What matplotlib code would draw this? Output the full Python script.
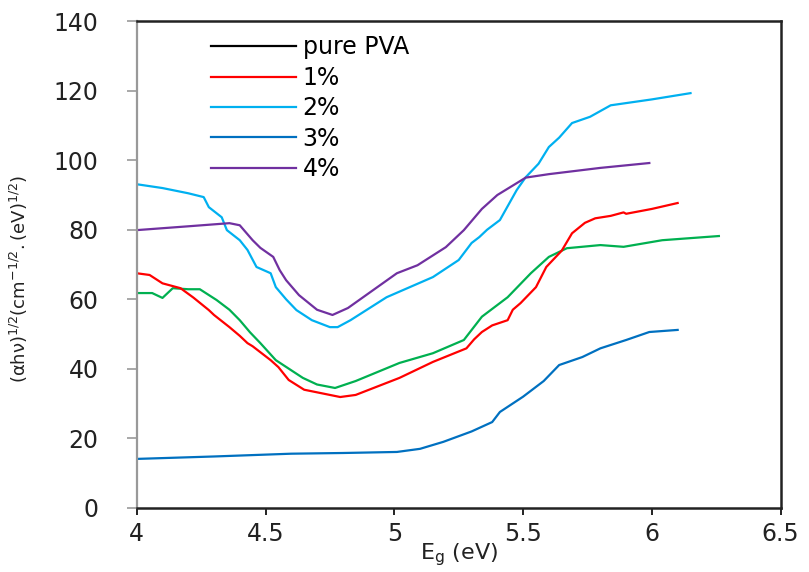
import matplotlib
matplotlib.use("Agg")
import matplotlib.pyplot as plt
from matplotlib.lines import Line2D

plt.rcParams['font.family'] = ['DejaVu Sans']
plt.rcParams['mathtext.fontset'] = 'dejavusans'

# photon energy (eV) and (alpha h nu)^1/2
x_1 = [4.0, 4.05, 4.10, 4.17, 4.22, 4.28, 4.30, 4.36, 4.40, 4.43, 4.45, 4.52, 4.55, 4.59, 4.65,
       4.75, 4.79, 4.85, 5.02, 5.15, 5.28, 5.31, 5.34, 5.38, 5.44, 5.46, 5.49, 5.55, 5.59, 5.65,
       5.69, 5.74, 5.78, 5.84, 5.89, 5.90, 6.0, 6.10]
y_1 = [67.5, 67.0, 64.6, 63.2, 60.5, 56.9, 55.5, 52.0, 49.5, 47.4, 46.5, 42.5, 40.5, 36.8, 34.0,
       32.5, 31.9, 32.5, 37.4, 42.0, 45.9, 48.5, 50.6, 52.5, 54.0, 57.0, 58.9, 63.5, 69.3, 74.0,
       79.0, 82.0, 83.3, 84.0, 85.0, 84.6, 86.0, 87.7]

x_2 = [4.0, 4.10, 4.20, 4.26, 4.28, 4.33, 4.35, 4.40, 4.43, 4.465, 4.52, 4.54, 4.58, 4.62, 4.68,
       4.75, 4.78, 4.83, 4.97, 5.15, 5.25, 5.30, 5.33, 5.36, 5.41, 5.475, 5.51, 5.56, 5.60, 5.64,
       5.69, 5.76, 5.84, 6.0, 6.15]
y_2 = [93.1, 92.0, 90.5, 89.4, 86.5, 83.6, 79.9, 77.0, 74.2, 69.3, 67.5, 63.5, 60.0, 56.9, 54.0,
       52.0, 52.0, 54.0, 60.6, 66.4, 71.3, 76.2, 77.9, 80.0, 82.8, 91.4, 95.1, 99.0, 103.8, 106.5,
       110.7, 112.5, 115.8, 117.5, 119.3]

x_3 = [4.0, 4.3, 4.6, 4.8, 5.01, 5.10, 5.19, 5.30, 5.38, 5.41, 5.50, 5.58, 5.64, 5.73, 5.80,
       5.90, 5.99, 6.10]
y_3 = [14.1, 14.8, 15.6, 15.8, 16.1, 17.0, 19.0, 22.0, 24.7, 27.6, 32.0, 36.5, 41.1, 43.4, 45.9,
       48.3, 50.6, 51.2]

x_4 = [4.0, 4.20, 4.36, 4.40, 4.45, 4.48, 4.53, 4.555, 4.58, 4.63, 4.70, 4.76, 4.82, 5.01, 5.09,
       5.20, 5.27, 5.34, 5.40, 5.475, 5.51, 5.60, 5.80, 5.99]
y_4 = [79.9, 81.0, 81.9, 81.3, 77.0, 74.8, 72.2, 68.4, 65.5, 61.2, 57.0, 55.5, 57.5, 67.5, 69.8,
       75.0, 79.9, 86.0, 90.0, 93.4, 95.0, 96.0, 97.8, 99.2]

x_0 = [4.0, 4.06, 4.10, 4.14, 4.20, 4.245, 4.31, 4.36, 4.40, 4.44, 4.48, 4.54, 4.645, 4.70, 4.77,
       4.85, 5.02, 5.15, 5.27, 5.34, 5.44, 5.53, 5.60, 5.67, 5.80, 5.89, 6.04, 6.26]
y_0 = [61.8, 61.8, 60.4, 63.2, 62.9, 62.9, 59.8, 57.0, 54.0, 50.5, 47.4, 42.5, 37.4, 35.5, 34.5,
       36.5, 41.7, 44.5, 48.3, 55.0, 60.6, 67.5, 72.2, 74.7, 75.6, 75.1, 77.0, 78.2]

labels = ['pure PVA', '1%', '2%', '3%', '4%']

fig = plt.figure(figsize=(8.09, 5.72), dpi=100)
ax = fig.add_axes([0.169, 0.112, 0.796, 0.851])

ax.plot(x_0, y_0, color='#00B050', lw=1.6)
l1, = ax.plot(x_1, y_1, color='#FF0000', lw=1.6)
l2, = ax.plot(x_2, y_2, color='#00B0F0', lw=1.6)
l3, = ax.plot(x_3, y_3, color='#0070C0', lw=1.6)
l4, = ax.plot(x_4, y_4, color='#7030A0', lw=1.6)
l0 = Line2D([], [], color='black', lw=1.6)

ax.set_xlim(4, 6.5)
ax.set_ylim(0, 140)
ax.set_xticks([4, 4.5, 5, 5.5, 6, 6.5])
ax.set_xticklabels(['4', '4.5', '5', '5.5', '6', '6.5'])
ax.set_yticks(range(0, 141, 20))
ax.tick_params(axis='x', direction='out', length=5, width=1.4, labelsize=17,
               labelcolor='#222222', color='#222222', pad=5)
ax.tick_params(axis='y', direction='out', length=7.5, width=1.2, labelsize=17,
               labelcolor='#222222', color='#999999', pad=20)
for s in ['top', 'right', 'bottom']:
    ax.spines[s].set_color('#222222')
    ax.spines[s].set_linewidth(1.8)
ax.spines['left'].set_color('#999999')
ax.spines['left'].set_linewidth(1.6)

ax.set_xlabel(r'E$_\mathregular{g}$ (eV)', fontsize=16, labelpad=-3, color='#222222')
ax.set_ylabel(r'$\mathregular{(\alpha h\nu)^{1/2}(cm^{-1/2}.(eV)^{1/2})}$', fontsize=13,
              color='#222222')
ax.yaxis.set_label_coords(-0.165, 0.47)

ax.legend([l0, l1, l2, l3, l4], labels, loc='upper left', bbox_to_anchor=(0.1, 0.99),
          frameon=False, fontsize=17, handlelength=3.6, handletextpad=0.3,
          labelspacing=0.27, borderaxespad=0)

fig.savefig('out.png', dpi=100)
